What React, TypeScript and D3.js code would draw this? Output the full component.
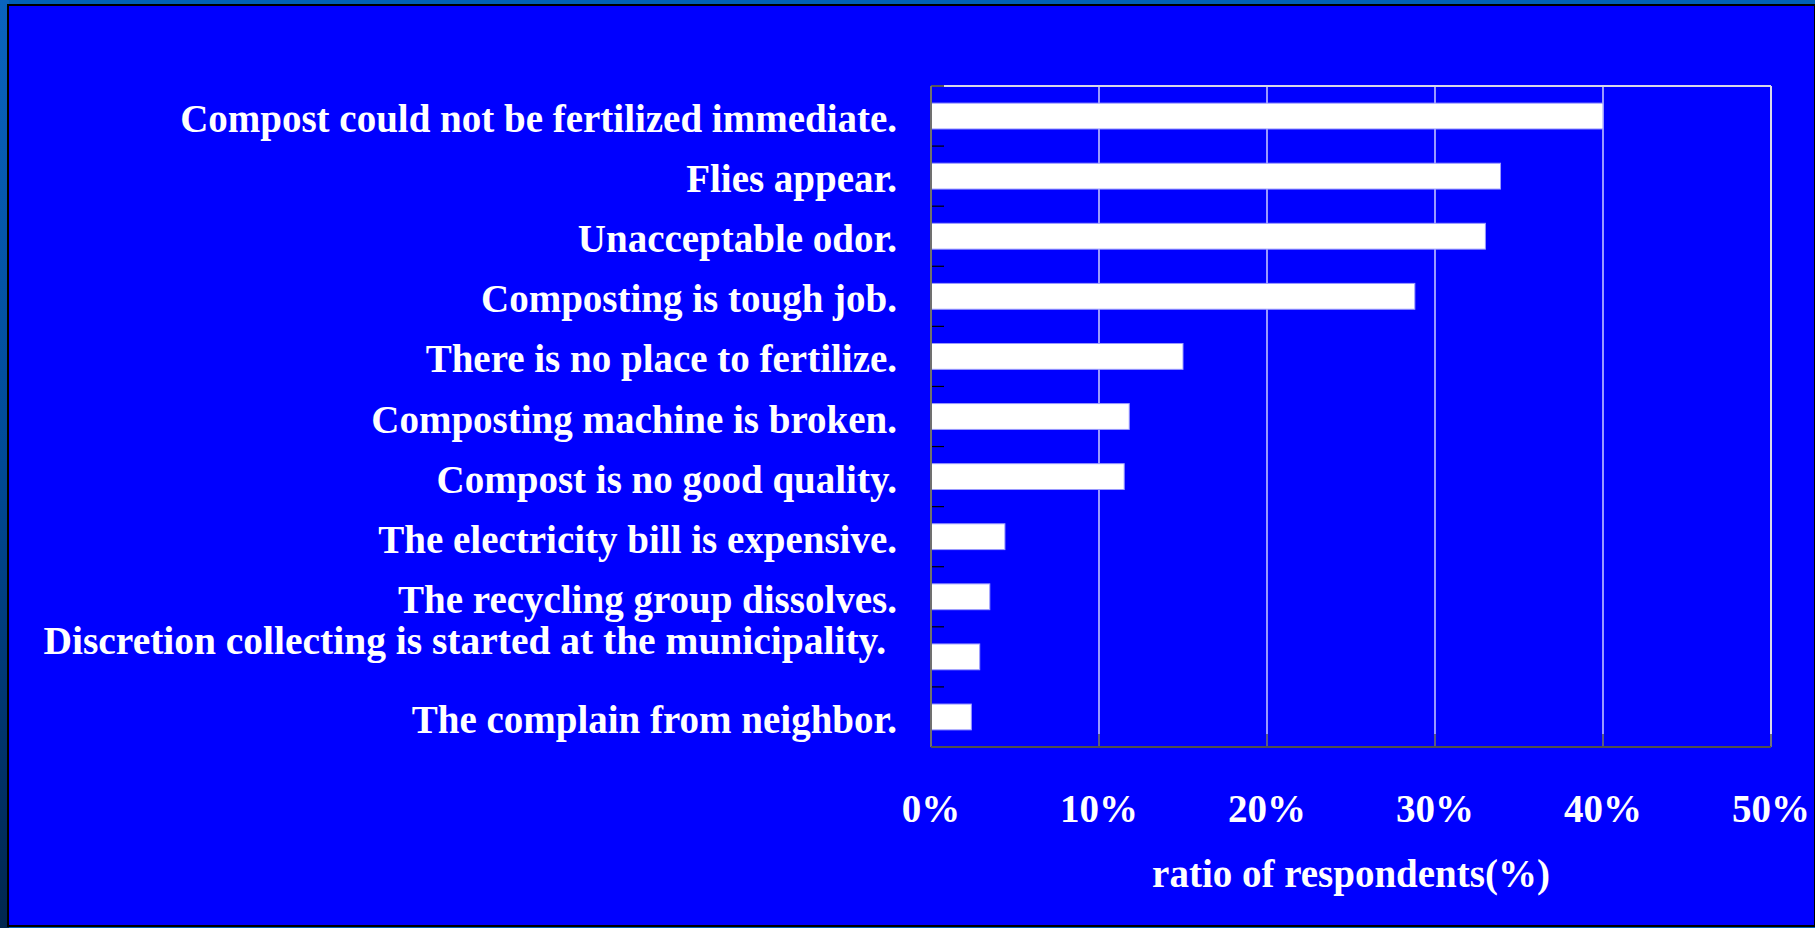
import React from "react";
import * as d3 from "d3";

const categories = [
  "Compost could not be fertilized immediate.",
  "Flies appear.",
  "Unacceptable odor.",
  "Composting is tough job.",
  "There is no place to fertilize.",
  "Composting machine is broken.",
  "Compost is no good quality.",
  "The electricity bill is expensive.",
  "The recycling group dissolves.",
  "Discretion collecting is started at the municipality.",
  "The complain from neighbor.",
];
const values = [40.0, 33.9, 33.0, 28.8, 15.0, 11.8, 11.5, 4.4, 3.5, 2.9, 2.4];
const xTicks = [0, 10, 20, 30, 40, 50];
const xTickLabels = ["0%", "10%", "20%", "30%", "40%", "50%"];
const xAxisTitle = "ratio of respondents(%)";

const W = 1815;
const H = 928;
const FONT = "'Liberation Serif', 'Times New Roman', serif";
const SY = 1.03;

export default function App() {
  const left = 931, right = 1771, top = 86, bottom = 747;
  const x = d3.scaleLinear().domain([0, 50]).range([left, right]);
  const y = d3
    .scaleBand<string>()
    .domain(categories)
    .range([top, bottom])
    .paddingInner(0.57)
    .paddingOuter(0.285);
  const step = y.step();
  const boundaries = d3.range(categories.length + 1).map((i) => top + i * step);

  return (
    <svg
      width={W}
      height={H}
      style={{ position: "fixed", left: 0, top: 0, display: "block" }}
    >
      <defs>
        <linearGradient id="leftStrip" x1="0" y1="0" x2="0" y2="1">
          <stop offset="0" stopColor="#0a64bf" />
          <stop offset="0.5" stopColor="#004a96" />
          <stop offset="1" stopColor="#00264f" />
        </linearGradient>
      </defs>
      <rect x={0} y={0} width={W} height={H} fill="#0060b8" />
      <rect x={0} y={0} width={9} height={H} fill="url(#leftStrip)" />
      <rect x={8} y={5} width={W - 8} height={921} fill="#0000ff" stroke="#000" strokeWidth={2} />

      {/* gridlines */}
      {xTicks.slice(1, -1).map((t) => (
        <line key={"g" + t} x1={x(t)} x2={x(t)} y1={top} y2={bottom} stroke="#ffffff" strokeWidth={1.2} />
      ))}

      {/* bars */}
      {categories.map((c, i) => (
        <rect
          key={c}
          x={x(0)}
          y={y(c)!}
          width={x(values[i]) - x(0)}
          height={y.bandwidth()}
          fill="#ffffff"
          stroke="#9a9aff"
          strokeWidth={1}
        />
      ))}

      {/* frame top / right */}
      <line x1={left} x2={right} y1={top} y2={top} stroke="#d8d8e8" strokeWidth={2} />
      <line x1={right} x2={right} y1={top} y2={bottom} stroke="#d8d8e8" strokeWidth={2} />

      {/* left ticks */}
      {boundaries.map((b, i) => (
        <line key={"yt" + i} x1={left} x2={left + 13} y1={b} y2={b} stroke="#000" strokeWidth={1.2} />
      ))}
      {/* bottom ticks */}
      {xTicks.map((t) => (
        <line key={"xt" + t} x1={x(t)} x2={x(t)} y1={bottom} y2={bottom - 13} stroke="#333" strokeWidth={1.2} />
      ))}

      {/* axes */}
      <line x1={left} x2={left} y1={top} y2={bottom} stroke="#707070" strokeWidth={2} />
      <line x1={left} x2={right} y1={bottom} y2={bottom} stroke="#505050" strokeWidth={2} />

      {/* category labels */}
      {categories.map((c, i) => {
        const nudge = i === 9 ? { dx: -11, dy: -19 } : { dx: 0, dy: 0 };
        const tx = 897 + nudge.dx;
        const ty = y(c)! + y.bandwidth() / 2 + 16 + nudge.dy;
        return (
          <text
            key={"l" + c}
            transform={`translate(${tx},${ty}) scale(1,${SY})`}
            textAnchor="end"
            fill="#ffffff"
            fontFamily={FONT}
            fontWeight="bold"
            fontSize={i === 9 ? 39.5 : 39}
          >
            {c}
          </text>
        );
      })}

      {/* x tick labels */}
      {xTicks.map((t, i) => (
        <text
          key={"xl" + t}
          transform={`translate(${x(t)},822) scale(1,${SY})`}
          textAnchor="middle"
          fill="#ffffff"
          fontFamily={FONT}
          fontWeight="bold"
          fontSize={39}
        >
          {xTickLabels[i]}
        </text>
      ))}

      <text
        transform={`translate(${(left + right) / 2},887) scale(1,${SY})`}
        textAnchor="middle"
        fill="#ffffff"
        fontFamily={FONT}
        fontWeight="bold"
        fontSize={39}
      >
        {xAxisTitle}
      </text>
    </svg>
  );
}
